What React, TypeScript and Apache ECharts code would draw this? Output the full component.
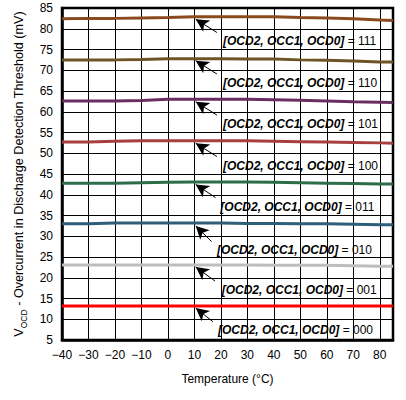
import React, { useEffect, useRef } from "react";
import * as echarts from "echarts";

const temps = [-40, -30, -20, -10, 0, 10, 20, 30, 40, 50, 60, 70, 80, 85];
const s111 = [82.4, 82.5, 82.5, 82.6, 82.7, 82.9, 82.9, 82.9, 82.9, 82.7, 82.6, 82.4, 82.1, 82.0];
const s110 = [72.5, 72.5, 72.5, 72.6, 72.8, 72.8, 72.8, 72.7, 72.7, 72.5, 72.4, 72.2, 72.0, 72.0];
const s101 = [62.6, 62.6, 62.6, 62.7, 63.0, 63.0, 63.0, 63.0, 62.9, 62.8, 62.6, 62.4, 62.3, 62.2];
const s100 = [52.7, 52.7, 52.9, 53.0, 53.0, 53.0, 53.0, 53.0, 52.9, 52.8, 52.7, 52.6, 52.5, 52.4];
const s011 = [42.8, 42.8, 42.8, 42.9, 43.0, 43.1, 43.1, 43.1, 43.0, 42.9, 42.8, 42.7, 42.6, 42.6];
const s010 = [33.0, 33.0, 33.2, 33.2, 33.2, 33.2, 33.2, 33.1, 33.1, 33.0, 33.0, 32.9, 32.8, 32.8];
const s001 = [23.1, 23.1, 23.1, 23.1, 23.1, 23.1, 23.1, 23.1, 23.0, 23.0, 23.0, 22.9, 22.8, 22.8];
const s000 = [13.2, 13.2, 13.2, 13.2, 13.2, 13.2, 13.2, 13.2, 13.2, 13.2, 13.2, 13.2, 13.2, 13.2];

const seriesNames = ["111", "110", "101", "100", "011", "010", "001", "000"];
const seriesValues = [s111, s110, s101, s100, s011, s010, s001, s000];
const seriesColors = ["#8a4a1e", "#6e5526", "#6a2d60", "#a83e3e", "#2d6d49", "#2e5e78", "#bdbdbd", "#ff0000"];
// annotation anchors (temperature, value) per series
const labelX = [20.8, 20.8, 20.8, 20.8, 19.8, 18.5, 20.3, 18.9];
const labelY = [77.0, 67.0, 57.0, 47.0, 37.0, 26.7, 17.0, 7.3];
const arrowTip = [[10.5, 82.3], [10.5, 72.3], [10.5, 62.4], [10.5, 52.4], [10.5, 42.5], [10.5, 32.5], [10.5, 22.6], [10.5, 12.7]];
const arrowTail = [[18.5, 79.1], [18.5, 69.1], [18.5, 59.2], [18.5, 49.2], [18.0, 39.3], [16.5, 28.7], [17.8, 19.2], [17.0, 9.4]];

const yName = "{n|V}{s|OCD}{n| - Overcurrent in Discharge Detection Threshold (mV)}";

export default function App() {
  const ref = useRef<HTMLDivElement>(null);
  useEffect(() => {
    if (!ref.current) return;
    const chart = echarts.init(ref.current, null, { renderer: "svg" });
    const font = "Liberation Sans, Arial, Helvetica, sans-serif";
    const series: any[] = seriesValues.map((vals, i) => ({
      type: "line",
      name: seriesNames[i],
      data: temps.map((t, j) => [t, vals[j]]),
      showSymbol: false,
      symbol: "none",
      lineStyle: { color: seriesColors[i], width: 3 },
      itemStyle: { color: seriesColors[i] },
      z: 3,
      markPoint: {
        symbol: "circle",
        symbolSize: 0,
        silent: true,
        data: [
          {
            coord: [labelX[i], labelY[i]],
            label: {
              show: true,
              position: "right",
              distance: 0,
              formatter: "{b|[OCD2, OCC1, OCD0]}{r| = " + seriesNames[i] + "}",
              rich: {
                b: { fontFamily: font, fontSize: 12, fontWeight: "bold", fontStyle: "italic", color: "#000" },
                r: { fontFamily: font, fontSize: 12, color: "#000" },
              },
            },
          },
        ],
      },
      markLine: {
        silent: true,
        symbol: ["none", "arrow"],
        symbolSize: [10, 13],
        label: { show: false },
        lineStyle: { color: "#000", width: 1, type: "solid" },
        data: [[{ coord: arrowTail[i] }, { coord: arrowTip[i] }]],
      },
    }));
    chart.setOption({
      animation: false,
      grid: { left: 62, right: 13, top: 8, bottom: 60, show: true, borderColor: "#000", borderWidth: 2.5 },
      xAxis: {
        type: "value",
        min: -40,
        max: 85,
        interval: 10,
        name: "Temperature (°C)",
        nameLocation: "middle",
        nameGap: 33,
        nameTextStyle: { fontFamily: font, fontSize: 12, color: "#000" },
        axisLine: { onZero: false, lineStyle: { color: "#000", width: 2.5 } },
        axisTick: { show: false },
        axisLabel: {
          fontFamily: font,
          fontSize: 12,
          color: "#000",
          margin: 9,
          showMaxLabel: false,
          formatter: (v: number) => (v === 85 ? "" : v < 0 ? "\u2212" + Math.abs(v) : String(v)),
        },
        splitLine: { show: true, lineStyle: { color: "#000", width: 1 } },
      },
      yAxis: {
        type: "value",
        min: 5,
        max: 85,
        interval: 5,
        name: yName,
        nameLocation: "middle",
        nameGap: 37,
        nameTextStyle: {
          fontFamily: font,
          color: "#000",
          rich: {
            n: { fontFamily: font, fontSize: 12.6, color: "#000", lineHeight: 16, verticalAlign: "bottom" },
            s: { fontFamily: font, fontSize: 8.5, color: "#000", lineHeight: 16, verticalAlign: "bottom", padding: [0, 0, -3, 0] },
          },
        },
        axisLine: { onZero: false, lineStyle: { color: "#000", width: 2.5 } },
        axisTick: { show: false },
        axisLabel: { fontFamily: font, fontSize: 12, color: "#000", margin: 9 },
        splitLine: { show: true, lineStyle: { color: "#000", width: 1 } },
      },
      series,
    });
    return () => chart.dispose();
  }, []);
  return <div ref={ref} style={{ width: 406, height: 400, position: "absolute", left: 0, top: 0 }} />;
}
